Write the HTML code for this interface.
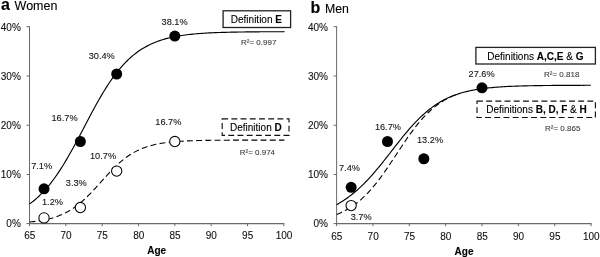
<!DOCTYPE html>
<html><head><meta charset="utf-8"><title>Figure</title>
<style>html,body{margin:0;padding:0;background:#fff}svg{display:block}text{font-family:"Liberation Sans",sans-serif}</style>
</head><body>
<svg width="600" height="257" viewBox="0 0 600 257">
<rect width="600" height="257" fill="#fff"/>
<path d="M29.5,26.19999999999999 V224.1" stroke="#6a6a6a" stroke-width="1" fill="none"/>
<path d="M29.0,223.6 H284.31" stroke="#6a6a6a" stroke-width="1.1" fill="none"/>
<path d="M26.5,223.60 H29.5" stroke="#6a6a6a" stroke-width="1"/>
<text x="20.8" y="227.2" font-size="10" text-anchor="end" font-weight="normal" fill="#111" stroke="#111" stroke-width="0.1">0%</text>
<path d="M26.5,174.53 H29.5" stroke="#6a6a6a" stroke-width="1"/>
<text x="20.8" y="178.1" font-size="10" text-anchor="end" font-weight="normal" fill="#111" stroke="#111" stroke-width="0.1">10%</text>
<path d="M26.5,125.25 H29.5" stroke="#6a6a6a" stroke-width="1"/>
<text x="20.8" y="129.0" font-size="10" text-anchor="end" font-weight="normal" fill="#111" stroke="#111" stroke-width="0.1">20%</text>
<path d="M26.5,75.97 H29.5" stroke="#6a6a6a" stroke-width="1"/>
<text x="20.8" y="79.9" font-size="10" text-anchor="end" font-weight="normal" fill="#111" stroke="#111" stroke-width="0.1">30%</text>
<path d="M26.5,26.70 H29.5" stroke="#6a6a6a" stroke-width="1"/>
<text x="20.8" y="30.8" font-size="10" text-anchor="end" font-weight="normal" fill="#111" stroke="#111" stroke-width="0.1">40%</text>
<path d="M29.50,223.6 V226.2" stroke="#6a6a6a" stroke-width="1"/>
<text x="29.7" y="239" font-size="10" text-anchor="middle" font-weight="normal" fill="#111" stroke="#111" stroke-width="0.1">65</text>
<path d="M65.83,223.6 V226.2" stroke="#6a6a6a" stroke-width="1"/>
<text x="66.03" y="239" font-size="10" text-anchor="middle" font-weight="normal" fill="#111" stroke="#111" stroke-width="0.1">70</text>
<path d="M102.16,223.6 V226.2" stroke="#6a6a6a" stroke-width="1"/>
<text x="102.36" y="239" font-size="10" text-anchor="middle" font-weight="normal" fill="#111" stroke="#111" stroke-width="0.1">75</text>
<path d="M138.49,223.6 V226.2" stroke="#6a6a6a" stroke-width="1"/>
<text x="138.69" y="239" font-size="10" text-anchor="middle" font-weight="normal" fill="#111" stroke="#111" stroke-width="0.1">80</text>
<path d="M174.82,223.6 V226.2" stroke="#6a6a6a" stroke-width="1"/>
<text x="175.02" y="239" font-size="10" text-anchor="middle" font-weight="normal" fill="#111" stroke="#111" stroke-width="0.1">85</text>
<path d="M211.15,223.6 V226.2" stroke="#6a6a6a" stroke-width="1"/>
<text x="211.35" y="239" font-size="10" text-anchor="middle" font-weight="normal" fill="#111" stroke="#111" stroke-width="0.1">90</text>
<path d="M247.48,223.6 V226.2" stroke="#6a6a6a" stroke-width="1"/>
<text x="247.68" y="239" font-size="10" text-anchor="middle" font-weight="normal" fill="#111" stroke="#111" stroke-width="0.1">95</text>
<path d="M283.81,223.6 V226.2" stroke="#6a6a6a" stroke-width="1"/>
<text x="284.01" y="239" font-size="10" text-anchor="middle" font-weight="normal" fill="#111" stroke="#111" stroke-width="0.1">100</text>
<path d="M29.50,203.95 L31.33,202.61 L33.17,201.20 L35.00,199.70 L36.84,198.12 L38.67,196.46 L40.50,194.70 L42.34,192.85 L44.17,190.91 L46.00,188.88 L47.84,186.75 L49.67,184.52 L51.51,182.19 L53.34,179.76 L55.17,177.24 L57.01,174.62 L58.84,171.90 L60.67,169.10 L62.51,166.20 L64.34,163.21 L66.18,160.15 L68.01,157.01 L69.84,153.80 L71.68,150.52 L73.51,147.19 L75.35,143.81 L77.18,140.38 L79.01,136.92 L80.85,133.44 L82.68,129.95 L84.51,126.44 L86.35,122.94 L88.18,119.46 L90.02,115.99 L91.85,112.56 L93.68,109.16 L95.52,105.82 L97.35,102.53 L99.18,99.30 L101.02,96.13 L102.85,93.05 L104.69,90.04 L106.52,87.12 L108.35,84.29 L110.19,81.55 L112.02,78.90 L113.86,76.35 L115.69,73.90 L117.52,71.54 L119.36,69.28 L121.19,67.13 L123.02,65.06 L124.86,63.10 L126.69,61.23 L128.53,59.45 L130.36,57.76 L132.19,56.15 L134.03,54.63 L135.86,53.20 L137.69,51.84 L139.53,50.56 L141.36,49.35 L143.20,48.21 L145.03,47.14 L146.86,46.13 L148.70,45.18 L150.53,44.29 L152.37,43.46 L154.20,42.67 L156.03,41.94 L157.87,41.25 L159.70,40.60 L161.53,40.00 L163.37,39.44 L165.20,38.91 L167.04,38.41 L168.87,37.95 L170.70,37.52 L172.54,37.12 L174.37,36.74 L176.21,36.39 L178.04,36.06 L179.87,35.76 L181.71,35.47 L183.54,35.21 L185.37,34.96 L187.21,34.73 L189.04,34.52 L190.88,34.32 L192.71,34.13 L194.54,33.96 L196.38,33.79 L198.21,33.64 L200.04,33.50 L201.88,33.37 L203.71,33.25 L205.55,33.14 L207.38,33.03 L209.21,32.93 L211.05,32.84 L212.88,32.76 L214.72,32.68 L216.55,32.60 L218.38,32.54 L220.22,32.47 L222.05,32.41 L223.88,32.36 L225.72,32.31 L227.55,32.26 L229.39,32.22 L231.22,32.17 L233.05,32.14 L234.89,32.10 L236.72,32.07 L238.55,32.04 L240.39,32.01 L242.22,31.98 L244.06,31.96 L245.89,31.93 L247.72,31.91 L249.56,31.89 L251.39,31.87 L253.23,31.86 L255.06,31.84 L256.89,31.82 L258.73,31.81 L260.56,31.80 L262.39,31.79 L264.23,31.77 L266.06,31.76 L267.90,31.75 L269.73,31.75 L271.56,31.74 L273.40,31.73 L275.23,31.72 L277.06,31.72 L278.90,31.71 L280.73,31.70 L282.57,31.70 L284.40,31.69" stroke="#000" stroke-width="1.15" fill="none"/>
<path d="M29.50,221.98 L31.33,221.80 L33.17,221.60 L35.00,221.38 L36.84,221.14 L38.67,220.88 L40.50,220.59 L42.34,220.28 L44.17,219.93 L46.00,219.56 L47.84,219.14 L49.67,218.70 L51.51,218.21 L53.34,217.67 L55.17,217.10 L57.01,216.47 L58.84,215.79 L60.67,215.05 L62.51,214.26 L64.34,213.40 L66.18,212.48 L68.01,211.48 L69.84,210.42 L71.68,209.29 L73.51,208.08 L75.35,206.79 L77.18,205.43 L79.01,203.99 L80.85,202.47 L82.68,200.88 L84.51,199.22 L86.35,197.49 L88.18,195.70 L90.02,193.85 L91.85,191.94 L93.68,189.99 L95.52,188.01 L97.35,185.99 L99.18,183.96 L101.02,181.92 L102.85,179.87 L104.69,177.84 L106.52,175.83 L108.35,173.84 L110.19,171.89 L112.02,169.99 L113.86,168.14 L115.69,166.35 L117.52,164.62 L119.36,162.96 L121.19,161.37 L123.02,159.86 L124.86,158.42 L126.69,157.06 L128.53,155.78 L130.36,154.57 L132.19,153.43 L134.03,152.37 L135.86,151.38 L137.69,150.46 L139.53,149.61 L141.36,148.81 L143.20,148.08 L145.03,147.40 L146.86,146.77 L148.70,146.19 L150.53,145.66 L152.37,145.18 L154.20,144.73 L156.03,144.32 L157.87,143.94 L159.70,143.60 L161.53,143.28 L163.37,142.99 L165.20,142.73 L167.04,142.49 L168.87,142.27 L170.70,142.07 L172.54,141.89 L174.37,141.73 L176.21,141.58 L178.04,141.44 L179.87,141.32 L181.71,141.20 L183.54,141.10 L185.37,141.01 L187.21,140.92 L189.04,140.84 L190.88,140.77 L192.71,140.71 L194.54,140.65 L196.38,140.60 L198.21,140.55 L200.04,140.51 L201.88,140.47 L203.71,140.43 L205.55,140.40 L207.38,140.37 L209.21,140.34 L211.05,140.32 L212.88,140.30 L214.72,140.28 L216.55,140.26 L218.38,140.24 L220.22,140.23 L222.05,140.21 L223.88,140.20 L225.72,140.19 L227.55,140.18 L229.39,140.17 L231.22,140.16 L233.05,140.16 L234.89,140.15 L236.72,140.14 L238.55,140.14 L240.39,140.13 L242.22,140.13 L244.06,140.12 L245.89,140.12 L247.72,140.12 L249.56,140.11 L251.39,140.11 L253.23,140.11 L255.06,140.10 L256.89,140.10 L258.73,140.10 L260.56,140.10 L262.39,140.10 L264.23,140.10 L266.06,140.09 L267.90,140.09 L269.73,140.09 L271.56,140.09 L273.40,140.09 L275.23,140.09 L277.06,140.09 L278.90,140.09 L280.73,140.09 L282.57,140.09 L284.40,140.09" stroke="#000" stroke-width="1.1" fill="none" stroke-dasharray="5.9 3.3"/>
<circle cx="44.03" cy="188.81" r="5.5" fill="#000"/>
<circle cx="80.36" cy="141.51" r="5.5" fill="#000"/>
<circle cx="116.69" cy="74.00" r="5.5" fill="#000"/>
<circle cx="174.82" cy="36.06" r="5.5" fill="#000"/>
<circle cx="44.03" cy="217.89" r="5.15" fill="#fff" stroke="#000" stroke-width="1.05"/>
<circle cx="80.36" cy="207.54" r="5.15" fill="#fff" stroke="#000" stroke-width="1.05"/>
<circle cx="116.69" cy="171.08" r="5.15" fill="#fff" stroke="#000" stroke-width="1.05"/>
<circle cx="174.82" cy="141.51" r="5.15" fill="#fff" stroke="#000" stroke-width="1.05"/>
<text x="1.1" y="9.9" font-size="16" text-anchor="start" font-weight="bold" fill="#000" stroke="#000" stroke-width="0.12">a</text>
<text x="14.6" y="9.9" font-size="12.5" text-anchor="start" font-weight="normal" fill="#000" stroke="#000" stroke-width="0.1">Women</text>
<text x="31.2" y="169" font-size="9.2" text-anchor="start" font-weight="normal" fill="#111" stroke="#111" stroke-width="0.1">7.1%</text>
<text x="51.5" y="121.3" font-size="9.2" text-anchor="start" font-weight="normal" fill="#111" stroke="#111" stroke-width="0.1">16.7%</text>
<text x="88.7" y="59.4" font-size="9.2" text-anchor="start" font-weight="normal" fill="#111" stroke="#111" stroke-width="0.1">30.4%</text>
<text x="161.6" y="25" font-size="9.2" text-anchor="start" font-weight="normal" fill="#111" stroke="#111" stroke-width="0.1">38.1%</text>
<text x="42" y="205" font-size="9.2" text-anchor="start" font-weight="normal" fill="#111" stroke="#111" stroke-width="0.1">1.2%</text>
<text x="65.8" y="185.9" font-size="9.2" text-anchor="start" font-weight="normal" fill="#111" stroke="#111" stroke-width="0.1">3.3%</text>
<text x="90" y="158.5" font-size="9.2" text-anchor="start" font-weight="normal" fill="#111" stroke="#111" stroke-width="0.1">10.7%</text>
<text x="155.3" y="125" font-size="9.2" text-anchor="start" font-weight="normal" fill="#111" stroke="#111" stroke-width="0.1">16.7%</text>
<text x="147.2" y="253.7" font-size="10" text-anchor="start" font-weight="bold" fill="#000" stroke="#000" stroke-width="0.12">Age</text>
<rect x="223.1" y="10.8" width="67.5" height="16.7" fill="#fff" stroke="#222" stroke-width="1.3"/>
<text x="230.8" y="23.1" font-size="10" text-anchor="start" font-weight="normal" fill="#000" stroke="#000" stroke-width="0.1">Definition <tspan font-weight="bold">E</tspan></text>
<text x="241" y="45" font-size="8" text-anchor="start" font-weight="normal" fill="#3a3a3a" stroke="#3a3a3a" stroke-width="0.08">R²= 0.997</text>
<rect x="222.2" y="118.9" width="66.8" height="16.4" fill="#fff" stroke="#111" stroke-width="1.15" stroke-dasharray="5.9 3.3"/>
<text x="230" y="130.9" font-size="10" text-anchor="start" font-weight="normal" fill="#000" stroke="#000" stroke-width="0.1">Definition <tspan font-weight="bold">D</tspan></text>
<text x="239.7" y="154.7" font-size="8" text-anchor="start" font-weight="normal" fill="#3a3a3a" stroke="#3a3a3a" stroke-width="0.08">R²= 0.974</text>
<path d="M336.6,26.19999999999999 V224.1" stroke="#6a6a6a" stroke-width="1" fill="none"/>
<path d="M336.1,223.6 H591.5500000000001" stroke="#6a6a6a" stroke-width="1.1" fill="none"/>
<path d="M333.6,223.60 H336.6" stroke="#6a6a6a" stroke-width="1"/>
<text x="327.90000000000003" y="227.2" font-size="10" text-anchor="end" font-weight="normal" fill="#111" stroke="#111" stroke-width="0.1">0%</text>
<path d="M333.6,174.53 H336.6" stroke="#6a6a6a" stroke-width="1"/>
<text x="327.90000000000003" y="178.1" font-size="10" text-anchor="end" font-weight="normal" fill="#111" stroke="#111" stroke-width="0.1">10%</text>
<path d="M333.6,125.25 H336.6" stroke="#6a6a6a" stroke-width="1"/>
<text x="327.90000000000003" y="129.0" font-size="10" text-anchor="end" font-weight="normal" fill="#111" stroke="#111" stroke-width="0.1">20%</text>
<path d="M333.6,75.97 H336.6" stroke="#6a6a6a" stroke-width="1"/>
<text x="327.90000000000003" y="79.9" font-size="10" text-anchor="end" font-weight="normal" fill="#111" stroke="#111" stroke-width="0.1">30%</text>
<path d="M333.6,26.70 H336.6" stroke="#6a6a6a" stroke-width="1"/>
<text x="327.90000000000003" y="30.8" font-size="10" text-anchor="end" font-weight="normal" fill="#111" stroke="#111" stroke-width="0.1">40%</text>
<path d="M336.60,223.6 V226.2" stroke="#6a6a6a" stroke-width="1"/>
<text x="336.8" y="239.8" font-size="10" text-anchor="middle" font-weight="normal" fill="#111" stroke="#111" stroke-width="0.1">65</text>
<path d="M372.95,223.6 V226.2" stroke="#6a6a6a" stroke-width="1"/>
<text x="373.15" y="239.8" font-size="10" text-anchor="middle" font-weight="normal" fill="#111" stroke="#111" stroke-width="0.1">70</text>
<path d="M409.30,223.6 V226.2" stroke="#6a6a6a" stroke-width="1"/>
<text x="409.5" y="239.8" font-size="10" text-anchor="middle" font-weight="normal" fill="#111" stroke="#111" stroke-width="0.1">75</text>
<path d="M445.65,223.6 V226.2" stroke="#6a6a6a" stroke-width="1"/>
<text x="445.85" y="239.8" font-size="10" text-anchor="middle" font-weight="normal" fill="#111" stroke="#111" stroke-width="0.1">80</text>
<path d="M482.00,223.6 V226.2" stroke="#6a6a6a" stroke-width="1"/>
<text x="482.2" y="239.8" font-size="10" text-anchor="middle" font-weight="normal" fill="#111" stroke="#111" stroke-width="0.1">85</text>
<path d="M518.35,223.6 V226.2" stroke="#6a6a6a" stroke-width="1"/>
<text x="518.55" y="239.8" font-size="10" text-anchor="middle" font-weight="normal" fill="#111" stroke="#111" stroke-width="0.1">90</text>
<path d="M554.70,223.6 V226.2" stroke="#6a6a6a" stroke-width="1"/>
<text x="554.9" y="239.8" font-size="10" text-anchor="middle" font-weight="normal" fill="#111" stroke="#111" stroke-width="0.1">95</text>
<path d="M591.05,223.6 V226.2" stroke="#6a6a6a" stroke-width="1"/>
<text x="591.25" y="239.8" font-size="10" text-anchor="middle" font-weight="normal" fill="#111" stroke="#111" stroke-width="0.1">100</text>
<path d="M336.60,214.40 L338.43,213.67 L340.26,212.89 L342.09,212.05 L343.92,211.16 L345.75,210.20 L347.58,209.19 L349.41,208.10 L351.24,206.95 L353.07,205.73 L354.89,204.43 L356.72,203.05 L358.55,201.59 L360.38,200.05 L362.21,198.43 L364.04,196.72 L365.87,194.93 L367.70,193.05 L369.53,191.09 L371.36,189.04 L373.19,186.91 L375.02,184.70 L376.85,182.40 L378.68,180.03 L380.51,177.60 L382.34,175.09 L384.17,172.52 L386.00,169.90 L387.83,167.24 L389.66,164.53 L391.48,161.79 L393.31,159.03 L395.14,156.26 L396.97,153.48 L398.80,150.70 L400.63,147.93 L402.46,145.19 L404.29,142.47 L406.12,139.79 L407.95,137.16 L409.78,134.58 L411.61,132.06 L413.44,129.61 L415.27,127.22 L417.10,124.91 L418.93,122.67 L420.76,120.52 L422.59,118.45 L424.42,116.47 L426.25,114.57 L428.07,112.75 L429.90,111.02 L431.73,109.38 L433.56,107.82 L435.39,106.35 L437.22,104.95 L439.05,103.63 L440.88,102.39 L442.71,101.22 L444.54,100.11 L446.37,99.08 L448.20,98.11 L450.03,97.21 L451.86,96.36 L453.69,95.56 L455.52,94.86" stroke="#000" stroke-width="1.1" fill="none" stroke-dasharray="5.9 3.3"/>
<path d="M336.60,204.67 L338.43,203.64 L340.26,202.57 L342.09,201.44 L343.92,200.26 L345.75,199.02 L347.58,197.74 L349.41,196.40 L351.24,195.00 L353.07,193.54 L354.89,192.03 L356.72,190.46 L358.55,188.83 L360.38,187.14 L362.21,185.39 L364.04,183.59 L365.87,181.73 L367.70,179.82 L369.53,177.85 L371.36,175.83 L373.19,173.76 L375.02,171.64 L376.85,169.49 L378.68,167.29 L380.51,165.05 L382.34,162.79 L384.17,160.50 L386.00,158.18 L387.83,155.85 L389.66,153.50 L391.48,151.15 L393.31,148.80 L395.14,146.45 L396.97,144.11 L398.80,141.79 L400.63,139.49 L402.46,137.22 L404.29,134.98 L406.12,132.77 L407.95,130.61 L409.78,128.49 L411.61,126.42 L413.44,124.40 L415.27,122.44 L417.10,120.54 L418.93,118.70 L420.76,116.92 L422.59,115.21 L424.42,113.56 L426.25,111.97 L428.07,110.45 L429.90,109.00 L431.73,107.61 L433.56,106.28 L435.39,105.02 L437.22,103.82 L439.05,102.68 L440.88,101.60 L442.71,100.58 L444.54,99.61 L446.37,98.70 L448.20,97.83 L450.03,97.02 L451.86,96.25 L453.69,95.53 L455.52,94.86 L457.35,94.22 L459.18,93.62 L461.01,93.06 L462.84,92.53 L464.66,92.04 L466.49,91.58 L468.32,91.15 L470.15,90.75 L471.98,90.37 L473.81,90.02 L475.64,89.69 L477.47,89.38 L479.30,89.09 L481.13,88.82 L482.96,88.58 L484.79,88.34 L486.62,88.13 L488.45,87.92 L490.28,87.74 L492.11,87.56 L493.94,87.40 L495.77,87.25 L497.60,87.10 L499.43,86.97 L501.25,86.85 L503.08,86.74 L504.91,86.63 L506.74,86.53 L508.57,86.44 L510.40,86.36 L512.23,86.28 L514.06,86.20 L515.89,86.13 L517.72,86.07 L519.55,86.01 L521.38,85.96 L523.21,85.91 L525.04,85.86 L526.87,85.81 L528.70,85.77 L530.53,85.73 L532.36,85.70 L534.19,85.67 L536.02,85.64 L537.84,85.61 L539.67,85.58 L541.50,85.56 L543.33,85.53 L545.16,85.51 L546.99,85.49 L548.82,85.48 L550.65,85.46 L552.48,85.44 L554.31,85.43 L556.14,85.41 L557.97,85.40 L559.80,85.39 L561.63,85.38 L563.46,85.37 L565.29,85.36 L567.12,85.35 L568.95,85.34 L570.78,85.34 L572.61,85.33 L574.43,85.32 L576.26,85.32 L578.09,85.31 L579.92,85.31 L581.75,85.30 L583.58,85.30 L585.41,85.29 L587.24,85.29 L589.07,85.28 L590.90,85.28" stroke="#000" stroke-width="1.15" fill="none"/>
<circle cx="351.14" cy="187.34" r="5.5" fill="#000"/>
<circle cx="387.49" cy="141.51" r="5.5" fill="#000"/>
<circle cx="423.84" cy="158.76" r="5.5" fill="#000"/>
<circle cx="482.00" cy="87.80" r="5.5" fill="#000"/>
<circle cx="351.14" cy="205.57" r="5.15" fill="#fff" stroke="#000" stroke-width="1.05"/>
<text x="310.5" y="12.9" font-size="16" text-anchor="start" font-weight="bold" fill="#000" stroke="#000" stroke-width="0.12">b</text>
<text x="325.0" y="12.6" font-size="12.3" text-anchor="start" font-weight="normal" fill="#000" stroke="#000" stroke-width="0.1">Men</text>
<text x="339" y="171.3" font-size="9.2" text-anchor="start" font-weight="normal" fill="#111" stroke="#111" stroke-width="0.1">7.4%</text>
<text x="374.9" y="130.1" font-size="9.2" text-anchor="start" font-weight="normal" fill="#111" stroke="#111" stroke-width="0.1">16.7%</text>
<text x="417" y="143" font-size="9.2" text-anchor="start" font-weight="normal" fill="#111" stroke="#111" stroke-width="0.1">13.2%</text>
<text x="468.6" y="77" font-size="9.2" text-anchor="start" font-weight="normal" fill="#111" stroke="#111" stroke-width="0.1">27.6%</text>
<text x="350.7" y="220.3" font-size="9.2" text-anchor="start" font-weight="normal" fill="#111" stroke="#111" stroke-width="0.1">3.7%</text>
<text x="454.6" y="254.5" font-size="10" text-anchor="start" font-weight="bold" fill="#000" stroke="#000" stroke-width="0.12">Age</text>
<rect x="475.9" y="47.4" width="119.5" height="16.6" fill="#fff" stroke="#222" stroke-width="1.3"/>
<text x="487.3" y="59.6" font-size="10" text-anchor="start" font-weight="normal" fill="#000" stroke="#000" stroke-width="0.1">Definitions <tspan font-weight="bold">A,C,E</tspan> &amp; <tspan font-weight="bold">G</tspan></text>
<text x="544" y="77" font-size="8" text-anchor="start" font-weight="normal" fill="#3a3a3a" stroke="#3a3a3a" stroke-width="0.08">R²= 0.818</text>
<rect x="477" y="101.1" width="118.4" height="16.4" fill="#fff" stroke="#111" stroke-width="1.15" stroke-dasharray="5.9 3.3"/>
<text x="486.2" y="112.7" font-size="10" text-anchor="start" font-weight="normal" fill="#000" stroke="#000" stroke-width="0.1">Definitions <tspan font-weight="bold">B, D, F</tspan> &amp; <tspan font-weight="bold">H</tspan></text>
<text x="545" y="130.5" font-size="8" text-anchor="start" font-weight="normal" fill="#3a3a3a" stroke="#3a3a3a" stroke-width="0.08">R²= 0.865</text>
</svg>
</body></html>
